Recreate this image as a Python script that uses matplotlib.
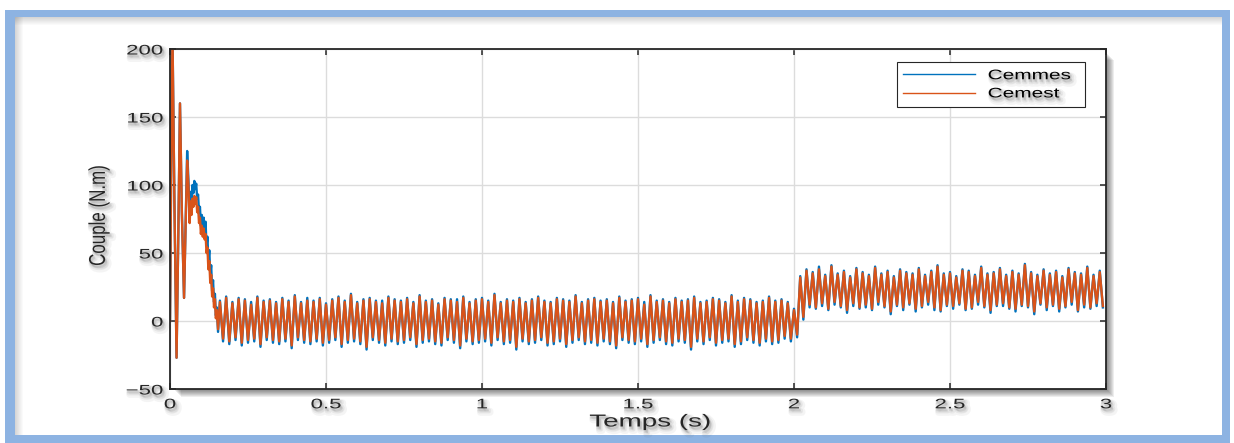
import numpy as np
import matplotlib
matplotlib.use("Agg")
import matplotlib.pyplot as plt
from matplotlib.patches import Rectangle
from matplotlib.patheffects import AbstractPathEffect
from matplotlib.transforms import Affine2D

# start-up transient (time in s, torque in N.m)
tr_t = [0.000, 0.004, 0.008, 0.014, 0.021, 0.027, 0.032, 0.038, 0.045, 0.050,
        0.055, 0.059, 0.063, 0.066, 0.069, 0.072, 0.075, 0.078, 0.081, 0.084,
        0.087, 0.090, 0.093, 0.096, 0.099, 0.102, 0.105, 0.108, 0.111, 0.114,
        0.117, 0.120, 0.123, 0.126, 0.129, 0.132, 0.135, 0.138, 0.141, 0.144,
        0.147, 0.150, 0.154]
tr_cemest = [0, 120, 210, 90, -27, 70, 160, 80, 17, 70,
             118, 100, 72, 88, 78, 90, 84, 92, 86, 91,
             80, 84, 72, 76, 64, 70, 62, 68, 60, 64,
             50, 54, 38, 44, 28, 34, 18, 24, 10, 16,
             2, 8, -6]
tr_cemmes = [0, 120, 210, 90, -27, 70, 160, 80, 17, 70,
             125, 104, 76, 95, 86, 100, 94, 103, 97, 101,
             90, 93, 80, 84, 70, 78, 68, 76, 66, 73,
             55, 62, 44, 52, 34, 41, 22, 30, 14, 20,
             4, 10, -8]

# ripple, one peak / one trough per 20 ms cycle, from 0.16 s on
cycle_start = 0.16
cycle_len = 0.02

cemest_peaks_low = [14, 17, 13, 16, 15, 12, 17, 14, 15, 13,
                    16, 14, 18, 13, 15, 14, 16, 12, 15, 17,
                    14, 19, 13, 15, 16, 14, 13, 17, 15, 14,
                    16, 13, 18, 14, 15, 12, 16, 15, 14, 17,
                    13, 15, 16, 14, 19, 13, 15, 14, 16, 13,
                    15, 17, 14, 13, 16, 15, 14, 18, 13, 15,
                    16, 14, 15, 13, 17, 14, 15, 16, 12, 18,
                    14, 15, 13, 16, 14, 15, 17, 13, 14, 16,
                    15, 13, 18, 14, 16, 15, 13, 14, 17, 14,
                    15, 13]
cemest_troughs_low = [-13, -15, -12, -16, -14, -13, -17, -12, -14, -15,
                      -13, -18, -12, -14, -15, -13, -16, -14, -12, -17,
                      -14, -13, -15, -19, -12, -14, -16, -13, -15, -14,
                      -12, -17, -14, -13, -15, -16, -12, -14, -18, -13,
                      -15, -14, -13, -16, -12, -15, -14, -19, -13, -15,
                      -14, -12, -16, -15, -13, -17, -14, -12, -15, -14,
                      -16, -13, -15, -18, -12, -14, -15, -13, -17, -14,
                      -12, -15, -16, -13, -14, -19, -13, -15, -12, -16,
                      -14, -13, -17, -15, -12, -14, -16, -13, -15, -14,
                      -11, -13]
cemmes_peaks_low = [15, 18, 14, 17, 16, 14, 18, 15, 16, 14,
                    17, 15, 19, 14, 17, 15, 17, 13, 16, 18,
                    15, 20, 14, 16, 17, 15, 15, 18, 16, 15,
                    17, 14, 19, 15, 16, 13, 17, 16, 16, 18,
                    14, 16, 17, 15, 20, 14, 16, 15, 17, 14,
                    16, 18, 15, 14, 17, 16, 15, 19, 14, 16,
                    17, 15, 16, 14, 18, 15, 16, 17, 14, 19,
                    15, 16, 14, 17, 15, 16, 18, 14, 15, 17,
                    16, 14, 19, 15, 17, 16, 14, 15, 18, 15,
                    16, 14]
cemmes_troughs_low = [-15, -17, -14, -18, -16, -15, -19, -14, -16, -17,
                      -15, -20, -14, -16, -17, -15, -18, -16, -14, -19,
                      -16, -15, -17, -21, -14, -16, -18, -15, -17, -16,
                      -14, -19, -16, -15, -17, -18, -14, -16, -20, -15,
                      -17, -16, -15, -18, -14, -17, -16, -21, -15, -17,
                      -16, -14, -18, -17, -15, -19, -16, -14, -17, -16,
                      -18, -15, -17, -20, -14, -16, -17, -15, -19, -16,
                      -14, -17, -18, -15, -16, -21, -15, -17, -14, -18,
                      -16, -15, -19, -17, -14, -16, -18, -15, -17, -16,
                      -13, -15]

# after the load step at t = 2 s
cemest_peaks_high = [8, 32, 37, 35, 38, 33, 40, 34, 36, 32,
                     38, 35, 33, 39, 34, 36, 32, 37, 35, 34,
                     38, 33, 36, 40, 34, 35, 32, 37, 36, 33,
                     39, 34, 35, 38, 33, 36, 34, 41, 35, 33,
                     37, 34, 36, 32, 38, 35, 34, 39, 33, 36]
cemest_troughs_high = [-10, 3, 12, 10, 13, 9, 14, 11, 8, 13,
                       10, 12, 9, 14, 11, 7, 12, 10, 13, 9,
                       11, 14, 10, 8, 12, 11, 13, 9, 10, 14,
                       11, 8, 12, 13, 10, 9, 12, 11, 7, 13,
                       10, 12, 9, 11, 14, 8, 12, 10, 13, 11]
cemmes_peaks_high = [9, 33, 38, 36, 40, 34, 41, 35, 37, 33,
                     39, 36, 34, 40, 35, 37, 33, 38, 36, 35,
                     39, 34, 37, 41, 35, 36, 33, 38, 37, 34,
                     40, 35, 36, 39, 34, 37, 35, 42, 36, 34,
                     38, 35, 37, 33, 39, 36, 35, 40, 34, 37]
cemmes_troughs_high = [-12, 1, 10, 9, 11, 8, 12, 10, 6, 11,
                       9, 10, 8, 12, 10, 5, 11, 8, 12, 7,
                       10, 12, 8, 7, 11, 9, 12, 8, 9, 12,
                       10, 6, 11, 11, 9, 7, 11, 10, 5, 12,
                       8, 11, 7, 10, 12, 7, 10, 9, 11, 10]

x_ticks = [0, 0.5, 1, 1.5, 2, 2.5, 3]
x_tick_labels = ["0", "0.5", "1", "1.5", "2", "2.5", "3"]
y_ticks = [-50, 0, 50, 100, 150, 200]


def build_series(tr_v, peaks, troughs):
    n = len(peaks)
    t0 = cycle_start + cycle_len * np.arange(n)
    t = np.empty(2 * n)
    v = np.empty(2 * n)
    t[0::2], t[1::2] = t0, t0 + cycle_len / 2
    v[0::2], v[1::2] = peaks, troughs
    return np.concatenate([tr_t, t]), np.concatenate([tr_v, v])


t_mes, cemmes = build_series(tr_cemmes, cemmes_peaks_low + cemmes_peaks_high,
                             cemmes_troughs_low + cemmes_troughs_high)
t_est, cemest = build_series(tr_cemest, cemest_peaks_low + cemest_peaks_high,
                             cemest_troughs_low + cemest_troughs_high)


class WideText(AbstractPathEffect):
    """Widen glyphs horizontally and put a soft grey shadow under them."""

    def __init__(self, sx=1.55, anchor="center"):
        super().__init__()
        self.sx = sx
        self.anchor = anchor

    def draw_path(self, renderer, gc, tpath, affine, rgbFace=None):
        box = tpath.get_extents(affine)
        x0 = {"left": box.x0, "center": 0.5 * (box.x0 + box.x1),
              "right": box.x1}[self.anchor]
        wide = affine + Affine2D().translate(-x0, 0).scale(self.sx, 1).translate(x0, 0)
        for dx, dy, a, lw in [(3, -4, 0.06, 5), (2, -3, 0.08, 3), (1, -2, 0.10, 1.5)]:
            g = renderer.new_gc()
            g.copy_properties(gc)
            g.set_foreground("#505050")
            g.set_alpha(a)
            g.set_linewidth(lw)
            renderer.draw_path(g, tpath, wide + Affine2D().translate(dx, dy),
                               (0.31, 0.31, 0.31))
            g.restore()
        renderer.draw_path(gc, tpath, wide, rgbFace)


plt.rcParams["font.family"] = ["Liberation Sans", "DejaVu Sans"]
W, H = 1234, 443
fig = plt.figure(figsize=(W / 100, H / 100), dpi=100)
fig.patch.set_facecolor("white")


def px_rect(x0, y0, x1, y1, **kw):
    r = Rectangle((x0 / W, 1 - y1 / H), (x1 - x0) / W, (y1 - y0) / H,
                  transform=fig.transFigure, linewidth=0, **kw)
    fig.patches.append(r)
    return r


# blue picture frame with an inner shadow
frame_blue = "#8DB3E2"
px_rect(5, 10, 1230, 17, facecolor=frame_blue, zorder=-5)
px_rect(5, 10, 15, 443, facecolor=frame_blue, zorder=-5)
px_rect(1222, 10, 1230, 443, facecolor=frame_blue, zorder=-5)
px_rect(5, 435, 1230, 443, facecolor=frame_blue, zorder=-5)
for i in range(8):
    a = 0.16 * (1 - i / 8)
    px_rect(15, 17 + i, 1222, 18 + i, facecolor="black", alpha=a, zorder=-6)
    px_rect(15 + i, 17, 16 + i, 435, facecolor="black", alpha=a, zorder=-6)

# axes in pixel box (170, 49) - (1106, 389)
ax_l, ax_t, ax_r, ax_b = 170, 49, 1106, 389
for i in range(1, 9):
    px_rect(ax_l + 3 + i, ax_t + 3 + i, ax_r + i, ax_b + i,
            facecolor="black", alpha=0.07, zorder=-4)

ax = fig.add_axes([ax_l / W, 1 - ax_b / H, (ax_r - ax_l) / W, (ax_b - ax_t) / H])
ax.set_facecolor("white")

ax.plot(t_mes, cemmes, color="#0072BD", lw=1.7, label="Cemmes")
ax.plot(t_est, cemest, color="#D95319", lw=1.7, label="Cemest")

ax.set_xlim(0, 3)
ax.set_ylim(-50, 200)
ax.set_xticks(x_ticks, x_tick_labels)
ax.set_yticks(y_ticks)
ax.grid(True, color="#DCDCDC", lw=1.0)
ax.set_axisbelow(True)
ax.tick_params(direction="in", length=4.5, width=1.1, color="#262626",
               top=True, right=True, labelsize=10, labelcolor="#262626")
ax.tick_params(axis="x", pad=6)
ax.tick_params(axis="y", pad=5)
for s in ax.spines.values():
    s.set_linewidth(1.3)
    s.set_color("#262626")

ax.set_xlabel("Temps (s)", fontsize=12.5, color="#262626")
ax.xaxis.set_label_coords(0.513, -0.075)
ax.set_ylabel("Couple (N.m)", fontsize=12.2, color="#262626", va="center")
ax.yaxis.set_label_coords(-0.076, 0.51)
ax.xaxis.label.set_path_effects([WideText(1.6, "center")])
ax.yaxis.label.set_path_effects([WideText(1.35, "center")])

leg = ax.legend(loc="upper left", bbox_to_anchor=(0.7767, 0.5, 0.2009, 0.4618),
                mode="expand", borderaxespad=0, fontsize=10, handlelength=5.2,
                handletextpad=0.9, borderpad=0.45, labelspacing=0.3,
                fancybox=False, framealpha=1, edgecolor="#262626")
leg.get_frame().set_linewidth(0.8)
for line in leg.get_lines():
    line.set_linewidth(1.0)
for txt in leg.get_texts():
    txt.set_path_effects([WideText(1.5, "left")])

fig.canvas.draw()
for lbl in ax.get_xticklabels():
    lbl.set_path_effects([WideText(1.6, "center")])
for lbl in ax.get_yticklabels():
    lbl.set_path_effects([WideText(1.6, "right")])

fig.savefig("out.png", dpi=100)
